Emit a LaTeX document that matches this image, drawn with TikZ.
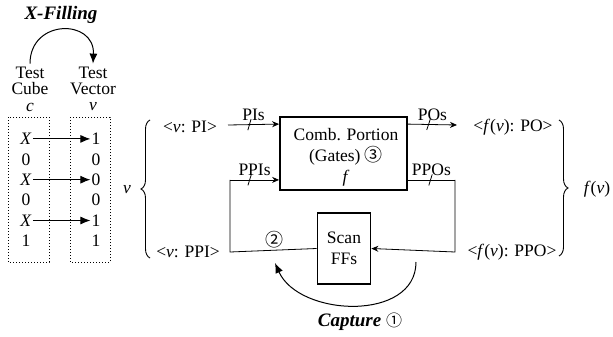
\documentclass[tikz,border=0pt]{standalone}
\usepackage{fontspec}
\setmainfont{Liberation Serif}
\newfontfamily\circfont{Noto Sans CJK SC}
\usetikzlibrary{calc, arrows.meta, decorations.pathreplacing, decorations.markings}

\begin{document}
\begin{tikzpicture}[x=1pt, y=-1pt,
    font=\fontsize{17.5}{21}\selectfont,
    blk/.style={draw, line width=1.8pt, inner sep=0pt},
    cubebox/.style={draw, dotted, line width=1pt},
    sig/.style={line width=0.8pt},
    arr/.style={sig, -{Stealth[length=7pt, width=6pt]}},
    fillarr/.style={line width=1pt, -{Latex[length=10pt, width=8pt]}},
    bus/.style={postaction={decorate}, decoration={markings,
        mark=at position #1 with {\draw[sig, -] (-1.7pt,-5.5pt) -- (1.7pt,5.5pt);}}},
    brc/.style={decorate, decoration={brace, amplitude=9pt}, line width=0.9pt},
    circnum/.style={font=\fontsize{#1}{#1}\selectfont\circfont}]
    \useasboundingbox (0,0) rectangle (613,337);
    % x-filling of the test cube
    \node[font=\fontsize{19}{21}\selectfont\bfseries\itshape] (xfill) at (61,15) {X-Filling};
    \node[align=center, font=\fontsize{17.5}{16}\selectfont] (tcube) at (30,81) {Test\\Cube};
    \node[align=center, font=\fontsize{17.5}{16}\selectfont] (tvec) at (93,81) {Test\\Vector};
    \node (cname) at (30,107) {\textit{c}};
    \node (vname) at (93,107) {\textit{v}};
    \draw[cubebox] (8,117) rectangle (49,262);
    \draw[cubebox] (70,117) rectangle (110,262);
    \foreach \c/\v [count=\i] in {{\textit{X}}/1, 0/0, {\textit{X}}/0, 0/0, {\textit{X}}/1, 1/1} {
        \node[inner sep=1pt] (c\i) at (26,118.5+20.4*\i) {\c};
        \node[inner sep=1pt] (v\i) at (96,118.5+20.4*\i) {\v};
    }
    \foreach \i in {1,3,5}
        \draw[fillarr] (c\i) -- (v\i);
    \draw[fillarr] (tcube.north) .. controls +(0,-45) and +(2,-45) .. (tvec.north);
    % circuit
    \node (vall) at (127,190) {\textit{v}};
    \node (vpi) at (190,127) {<\textit{v}: PI>};
    \node (vppi) at (188,252) {<\textit{v}: PPI>};
    \draw[brc] (150,258) -- (150,120);
    \node[blk, minimum width=127pt, minimum height=73pt] (comb) at (343.5,153.5) {};
    \node[align=center] (combtxt) at (346,157) {Comb. Portion\\(Gates) {\fontsize{18}{21}\selectfont\circfont ③}\\\textit{f}};
    \node[blk, minimum width=53pt, minimum height=71pt, align=center] (scan) at (344,248.5) {Scan\\FFs};
    \coordinate (pistart) at (228,125);
    \coordinate (piin) at ([yshift=-8pt]comb.north west);
    \coordinate (ppiin) at ([yshift=11pt]comb.south west);
    \coordinate (ppicorner) at (230,252);
    \coordinate (poout) at ([yshift=-8pt]comb.north east);
    \coordinate (poend) at (457,125);
    \coordinate (ppoout) at ([yshift=11pt]comb.south east);
    \coordinate (ppocorner) at (455,252);
    \draw[arr, bus=0.42] (pistart) -- (piin) node[midway, above] {PIs};
    \draw[sig] (scan.west) -- (ppicorner) -- (ppicorner |- ppiin);
    \draw[arr, bus=0.4] (ppicorner |- ppiin) -- (ppiin) node[midway, above] {PPIs};
    \draw[arr, bus=0.42] (poout) -- (poend) node[midway, above] {POs};
    \draw[sig, bus=0.48] (ppoout) -- (ppoout -| ppocorner) node[midway, above] {PPOs};
    \draw[arr] (ppoout -| ppocorner) -- (ppocorner) -- (scan.east);
    \node (vpo) at (513,127) {<\textit{f}(\textit{v}): PO>};
    \node (vppo) at (512,252) {<\textit{f}(\textit{v}): PPO>};
    \draw[brc] (559,120) -- (559,256);
    \node (fv) at (597,189) {\textit{f}(\textit{v})};
    % capture
    \node[circnum=18] (circ2) at (274,240) {②};
    \coordinate (capstart) at (416,262);
    \coordinate (capend) at (275,263);
    \draw[fillarr] (capstart) .. controls +(0,60) and +(24,54) .. (capend);
    \node (capture) at (360,322) {\fontsize{19}{21}\selectfont\bfseries\itshape Capture {\fontsize{16}{21}\selectfont\circfont\mdseries\upshape ①}};
\end{tikzpicture}
\end{document}
